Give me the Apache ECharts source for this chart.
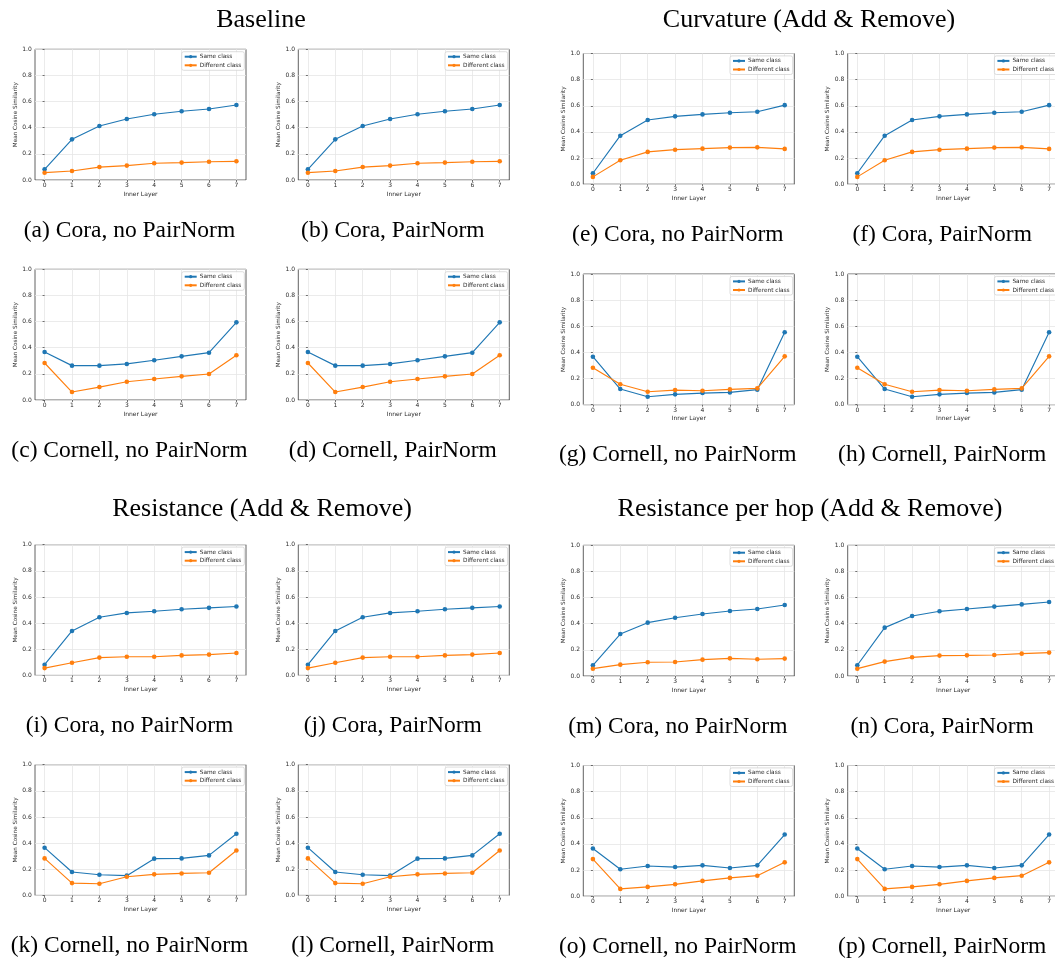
<!DOCTYPE html>
<html>
<head>
<meta charset="utf-8">
<script src="https://cdn.jsdelivr.net/npm/echarts@6/dist/echarts.min.js"></script>
<style>
html,body{margin:0;padding:0;background:#fff;}
#chart{width:1055px;height:962px;}
</style>
</head>
<body>
<div id="chart"></div>
<script>
// ---- data ----
const layers = [0, 1, 2, 3, 4, 5, 6, 7];
const yTicks = [0, 0.2, 0.4, 0.6, 0.8, 1.0];
const seriesNames = ['Same class', 'Different class'];

const baseCoraSame = [0.082, 0.311, 0.413, 0.467, 0.503, 0.526, 0.543, 0.574];
const baseCoraDiff = [0.056, 0.069, 0.099, 0.110, 0.128, 0.133, 0.140, 0.143];
const baseCornellSame = [0.367, 0.263, 0.263, 0.276, 0.304, 0.334, 0.362, 0.594];
const baseCornellDiff = [0.283, 0.061, 0.099, 0.140, 0.161, 0.181, 0.199, 0.342];

const curvCoraSame = [0.084, 0.371, 0.491, 0.519, 0.534, 0.547, 0.554, 0.605];
const curvCoraDiff = [0.056, 0.183, 0.247, 0.264, 0.272, 0.280, 0.282, 0.270];
const curvCornellSame = [0.367, 0.120, 0.061, 0.079, 0.089, 0.094, 0.115, 0.554];
const curvCornellDiff = [0.283, 0.156, 0.099, 0.112, 0.107, 0.117, 0.125, 0.370];

const resCoraSame = [0.082, 0.340, 0.445, 0.478, 0.491, 0.506, 0.517, 0.527];
const resCoraDiff = [0.056, 0.097, 0.136, 0.143, 0.143, 0.153, 0.159, 0.171];
const resCornellSame = [0.365, 0.179, 0.158, 0.151, 0.281, 0.283, 0.306, 0.472];
const resCornellDiff = [0.283, 0.094, 0.089, 0.143, 0.161, 0.168, 0.173, 0.344];

const hopCoraSame = [0.082, 0.321, 0.408, 0.446, 0.474, 0.497, 0.513, 0.543];
const hopCoraDiff = [0.056, 0.087, 0.105, 0.107, 0.125, 0.135, 0.128, 0.133];
const hopCoraPNSame = [0.082, 0.370, 0.459, 0.495, 0.513, 0.531, 0.548, 0.566];
const hopCoraPNDiff = [0.056, 0.110, 0.143, 0.156, 0.158, 0.161, 0.171, 0.179];
const hopCornellSame = [0.365, 0.206, 0.231, 0.223, 0.236, 0.216, 0.236, 0.472];
const hopCornellDiff = [0.284, 0.056, 0.071, 0.091, 0.117, 0.140, 0.157, 0.259];

const groupTitles = ['Baseline', 'Curvature (Add & Remove)', 'Resistance (Add & Remove)', 'Resistance per hop (Add & Remove)'];

// ---- layout ----
const PW = 211, PH = 130.7;
const colL = [35, 298.3, 583.3, 847.7];
const rowTopLeft = [49.3, 269.3, 544.7, 764.7];
const rowTopRight = [53.5, 274, 545.3, 765.5];

const panels = [
  {cap: '(a) Cora, no PairNorm',    c: 0, r: 0, s: baseCoraSame,    d: baseCoraDiff},
  {cap: '(b) Cora, PairNorm',       c: 1, r: 0, s: baseCoraSame,    d: baseCoraDiff},
  {cap: '(c) Cornell, no PairNorm', c: 0, r: 1, s: baseCornellSame, d: baseCornellDiff},
  {cap: '(d) Cornell, PairNorm',    c: 1, r: 1, s: baseCornellSame, d: baseCornellDiff},
  {cap: '(e) Cora, no PairNorm',    c: 2, r: 0, s: curvCoraSame,    d: curvCoraDiff},
  {cap: '(f) Cora, PairNorm',       c: 3, r: 0, s: curvCoraSame,    d: curvCoraDiff},
  {cap: '(g) Cornell, no PairNorm', c: 2, r: 1, s: curvCornellSame, d: curvCornellDiff},
  {cap: '(h) Cornell, PairNorm',    c: 3, r: 1, s: curvCornellSame, d: curvCornellDiff},
  {cap: '(i) Cora, no PairNorm',    c: 0, r: 2, s: resCoraSame,     d: resCoraDiff},
  {cap: '(j) Cora, PairNorm',       c: 1, r: 2, s: resCoraSame,     d: resCoraDiff},
  {cap: '(k) Cornell, no PairNorm', c: 0, r: 3, s: resCornellSame, d: resCornellDiff},
  {cap: '(l) Cornell, PairNorm',    c: 1, r: 3, s: resCornellSame, d: resCornellDiff},
  {cap: '(m) Cora, no PairNorm',    c: 2, r: 2, s: hopCoraSame,     d: hopCoraDiff},
  {cap: '(n) Cora, PairNorm',       c: 3, r: 2, s: hopCoraPNSame,   d: hopCoraPNDiff},
  {cap: '(o) Cornell, no PairNorm', c: 2, r: 3, s: hopCornellSame,  d: hopCornellDiff},
  {cap: '(p) Cornell, PairNorm',    c: 3, r: 3, s: hopCornellSame,  d: hopCornellDiff}
];

const SANS = '"DejaVu Sans", sans-serif';
const SERIF = '"Liberation Serif", "Times New Roman", serif';
const TXT = '#2b2b2b';
const FS = 6;
const COLORS = ['#1f77b4', '#ff7f0e'];

const grid = [], xAxis = [], yAxis = [], series = [], legend = [], graphic = [];

panels.forEach((p, i) => {
  const L = colL[p.c];
  const T = p.c < 2 ? rowTopLeft[p.r] : rowTopRight[p.r];
  grid.push({
    left: L, top: T, width: PW, height: PH,
    show: true, borderColor: '#3a3a3a', borderWidth: 0.8, backgroundColor: 'transparent',
    containLabel: false, outerBoundsMode: 'none'
  });
  xAxis.push({
    type: 'value', gridIndex: i, min: -0.35, max: 7.35,
    name: 'Inner Layer', nameLocation: 'middle', nameGap: 11.2,
    nameTextStyle: {fontFamily: SANS, fontSize: FS, color: TXT},
    axisLine: {show: false},
    axisTick: {show: true, inside: false, length: 2, customValues: layers, lineStyle: {color: '#3a3a3a', width: 0.7}},
    axisLabel: {show: true, margin: 2.5, customValues: layers, fontFamily: SANS, fontSize: FS, color: TXT,
                formatter: v => String(Math.round(v))},
    splitLine: {show: true, lineStyle: {color: '#e6e6e6', width: 0.8}}
  });
  yAxis.push({
    type: 'value', gridIndex: i, min: 0, max: 1, interval: 0.2,
    name: 'Mean Cosine Similarity', nameLocation: 'middle', nameGap: 16.3, nameRotate: 90,
    nameTextStyle: {fontFamily: SANS, fontSize: FS - 0.3, color: TXT},
    axisLine: {show: false},
    axisTick: {show: true, inside: false, length: 2, lineStyle: {color: '#3a3a3a', width: 0.7}},
    axisLabel: {show: true, margin: 3.3, fontFamily: SANS, fontSize: FS, color: TXT,
                formatter: v => v.toFixed(1)},
    splitLine: {show: true, lineStyle: {color: '#e6e6e6', width: 0.8}}
  });
  [p.s, p.d].forEach((vals, k) => {
    series.push({
      type: 'line', name: seriesNames[k], xAxisIndex: i, yAxisIndex: i,
      data: layers.map((x, j) => [x, vals[j]]),
      symbol: 'circle', symbolSize: 4.6, showSymbol: true,
      lineStyle: {color: COLORS[k], width: 1.15},
      itemStyle: {color: COLORS[k], borderWidth: 0},
      emphasis: {disabled: true}, animation: false, z: 3
    });
  });
  legend.push({
    orient: 'vertical', left: L + 146.7, top: T + 2.4,
    data: seriesNames, selectedMode: false,
    itemWidth: 12, itemHeight: 4, itemGap: 2.6,
    padding: [2, 3, 2, 2],
    backgroundColor: 'rgba(255,255,255,0.85)', borderColor: '#cfcfcf', borderWidth: 0.7, borderRadius: 2,
    textStyle: {fontFamily: SANS, fontSize: FS - 0.2, color: TXT, padding: [0, 0, 0, -2]}
  });
  graphic.push({
    type: 'text', silent: true,
    style: {
      text: p.cap, x: L + PW / 2 - 11, y: T + PH + 50.5,
      font: '23.5px ' + SERIF, fill: '#000',
      textAlign: 'center', textVerticalAlign: 'middle'
    }
  });
});

const titlePos = [[261, 20], [809, 20], [262, 509], [810, 509]];
groupTitles.forEach((t, i) => {
  graphic.push({
    type: 'text', silent: true,
    style: {
      text: t, x: titlePos[i][0], y: titlePos[i][1],
      font: '26px ' + SERIF, fill: '#000',
      textAlign: 'center', textVerticalAlign: 'middle'
    }
  });
});

const chart = echarts.init(document.getElementById('chart'), null, {renderer: 'canvas'});
chart.setOption({
  backgroundColor: '#fff',
  animation: false,
  grid, xAxis, yAxis, series, legend, graphic
});
</script>
</body>
</html>
